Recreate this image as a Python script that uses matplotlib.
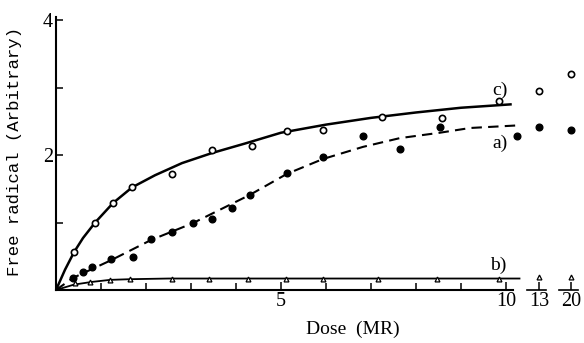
import matplotlib.pyplot as plt
import numpy as np

plt.rcParams['font.family'] = ['Liberation Serif', 'DejaVu Serif']

# measured points, dose in MR
dose_c = [0.4, 0.87, 1.27, 1.69, 2.57, 3.47, 4.36, 5.13, 5.93, 7.24, 8.58, 9.84]
rad_c = [0.56, 1.0, 1.29, 1.52, 1.72, 2.07, 2.13, 2.36, 2.37, 2.57, 2.55, 2.80]

dose_a = [0.38, 0.6, 0.8, 1.22, 1.71, 2.11, 2.58, 3.04, 3.47, 3.91, 4.31,
          5.13, 5.93, 6.82, 7.64, 8.53, 10.24]
rad_a = [0.18, 0.27, 0.34, 0.46, 0.49, 0.76, 0.86, 0.99, 1.05, 1.21, 1.41,
         1.74, 1.97, 2.28, 2.09, 2.41, 2.28]

dose_b = [0.42, 0.76, 1.2, 1.64, 2.58, 3.4, 4.27, 5.11, 5.93, 7.16, 8.47, 9.84]
rad_b = [0.1, 0.12, 0.15, 0.16, 0.17, 0.17, 0.17, 0.17, 0.17, 0.17, 0.17, 0.17]

# points past the axis break
far_dose = ['13', '20']
far_c = [2.95, 3.2]
far_a = [2.42, 2.37]
far_b = [0.2, 0.2]

# drawn curves
curve_c_x = [0, 0.2, 0.4, 0.6, 0.87, 1.27, 1.69, 2.2, 2.8, 3.47, 4.2, 5.0,
             6.0, 7.0, 8.0, 9.0, 10.1]
curve_c_y = [0, 0.3, 0.56, 0.77, 1.0, 1.29, 1.52, 1.7, 1.88, 2.03, 2.17, 2.33,
             2.45, 2.55, 2.63, 2.7, 2.75]
curve_a_x = [0, 0.38, 1.22, 2.11, 3.04, 4.31, 5.13, 5.93, 6.82, 7.64, 8.53,
             9.2, 10.3]
curve_a_y = [0, 0.18, 0.44, 0.74, 0.99, 1.41, 1.72, 1.94, 2.12, 2.25, 2.33,
             2.4, 2.44]
curve_b_x = [0, 0.4, 0.8, 1.2, 1.64, 2.5, 10.3]
curve_b_y = [0, 0.08, 0.12, 0.15, 0.16, 0.17, 0.17]

# x positions used for the 13 and 20 MR columns beyond the break
far_pos = [10.73, 11.44]

fig = plt.figure(figsize=(5.84, 3.43), dpi=100)
ax = fig.add_axes([56 / 584, 53 / 343, 526 / 584, 273 / 343])
ax.set_xlim(0, 526 / 45)
ax.set_ylim(0, 273 / 67.5)

ax.plot(curve_c_x, curve_c_y, '-', color='black', lw=1.8)
ax.plot(curve_a_x, curve_a_y, color='black', lw=1.5, dashes=(5, 3))
ax.plot(curve_b_x, curve_b_y, '-', color='black', lw=1.3)

ax.plot(dose_c, rad_c, 'o', mfc='white', mec='black', mew=1.2, ms=4.5)
ax.plot(dose_a, rad_a, 'o', color='black', ms=4.8)
ax.plot(dose_b, rad_b, '^', mfc='white', mec='black', mew=0.9, ms=3.5)

ax.plot(far_pos, far_c, 'o', mfc='white', mec='black', mew=1.2, ms=4.5)
ax.plot(far_pos, far_a, 'o', color='black', ms=4.8)
ax.plot(far_pos, far_b, '^', mfc='white', mec='black', mew=0.9, ms=3.5)

ax.text(9.87, 2.96, 'c)', fontsize=14, ha='center', va='center')
ax.text(9.87, 2.18, 'a)', fontsize=14, ha='center', va='center')
ax.text(9.82, 0.37, 'b)', fontsize=14, ha='center', va='center')

# axes frame: broken x axis
for s in ['top', 'right']:
    ax.spines[s].set_visible(False)
ax.spines['left'].set_linewidth(1.5)
ax.spines['bottom'].set_linewidth(1.5)
ax.spines['bottom'].set_bounds(0, 10.15)
for p in far_pos:
    ax.plot([p - 0.27, p + 0.15], [0, 0], color='black', lw=1.2, clip_on=False)

ax.set_xticks([5, 10] + far_pos)
ax.set_xticklabels(['5', '10'] + far_dose)
ax.set_xticks([1, 2, 3, 4, 6, 7, 8, 9], minor=True)
ax.set_yticks([2, 4])
ax.set_yticks([1, 3], minor=True)
ax.tick_params(which='both', direction='in', width=1.1, length=5)
ax.tick_params(axis='x', which='major', length=6, pad=1.5, labelsize=14.5)
ax.tick_params(axis='y', which='major', pad=2, labelsize=14.5)

ax.set_xlabel('Dose  (MR)', fontsize=14)
ax.xaxis.set_label_coords((353 - 56) / 526, (290 - 321) / 273)
ax.set_ylabel('Free radical (Arbitrary)', fontsize=12.5,
              family=['Liberation Mono', 'DejaVu Sans Mono'])
ax.yaxis.set_label_coords(-(56 - 22) / 526, (290 - 152) / 273)

fig.savefig('out.png', dpi=100, facecolor='white')
